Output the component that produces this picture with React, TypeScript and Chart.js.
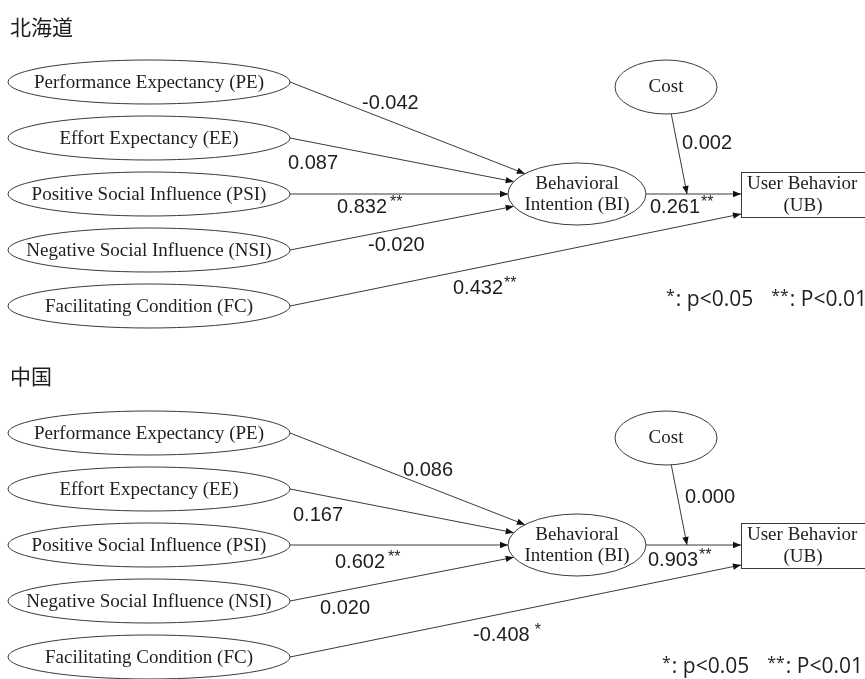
import { useEffect, useRef } from "react";
import { Chart, registerables } from "chart.js";

Chart.register(...registerables);

const W = 865;
const H = 679;

// Panel titles (regions) and model constructs
const panelTitles = ["北海道", "中国"];
const predictors = [
  "Performance Expectancy (PE)",
  "Effort Expectancy (EE)",
  "Positive Social Influence (PSI)",
  "Negative Social Influence (NSI)",
  "Facilitating Condition (FC)",
];
const biLines = ["Behavioral", "Intention (BI)"];
const ubLines = ["User Behavior", "(UB)"];
const costLabel = "Cost";

// Path coefficients: PE, EE, PSI, NSI -> BI
const hokkaidoToBI = [-0.042, 0.087, 0.832, -0.02];
const hokkaidoToBISig = ["", "", "**", ""];
const chinaToBI = [0.086, 0.167, 0.602, 0.02];
const chinaToBISig = ["", "", "**", ""];

// Path coefficients into UB: BI -> UB, FC -> UB, Cost (moderator)
const hokkaidoToUB = [0.261, 0.432, 0.002];
const hokkaidoToUBSig = ["**", "**", ""];
const chinaToUB = [0.903, -0.408, 0.0];
const chinaToUBSig = ["**", "*", ""];

const legendNote = [
  { stars: "*", text: ": p<0.05" },
  { stars: "**", text: ": P<0.01" },
];

// Diagram geometry in scale units
const layout = {
  panelOffset: [0, 351],
  titleY: [27, 376],
  titleX: 10,
  pred: { cx: 149, cy0: 82, dy: 56, rx: 141, ry: 22 },
  bi: { cx: 577, cy: 194, rx: 69, ry: 31 },
  cost: { cx: 666, cy: 87, rx: 51, ry: 27 },
  ub: { x: 741, y: 172, w: 150, h: 45 },
  costJoinX: 687,
  fcJoinDy: 3,
  // left anchors for coefficient labels, per panel
  biLabels: [
    [[362, 103], [288, 163], [337, 207], [368, 245]],
    [[403, 470], [293, 515], [335, 562], [320, 608]],
  ],
  ubLabels: [
    [[650, 207], [453, 288], [682, 143]],
    [[648, 560], [473, 635], [685, 497]],
  ],
  legend: [[666, 300], [662, 667]],
};

const panels = [
  { title: panelTitles[0], toBI: hokkaidoToBI, toBISig: hokkaidoToBISig, toUB: hokkaidoToUB, toUBSig: hokkaidoToUBSig },
  { title: panelTitles[1], toBI: chinaToBI, toBISig: chinaToBISig, toUB: chinaToUB, toUBSig: chinaToUBSig },
];

const LINE = "#3a3a3a";
const INK = "#1e1e1e";
const SERIF = '"Liberation Serif", "Times New Roman", serif';
const SANS = '"Liberation Sans", Arial, sans-serif';

type Pt = { x: number; y: number };

function ellipseToward(cx: number, cy: number, rx: number, ry: number, tx: number, ty: number): Pt {
  const dx = tx - cx;
  const dy = ty - cy;
  const t = 1 / Math.sqrt((dx / rx) ** 2 + (dy / ry) ** 2);
  return { x: cx + dx * t, y: cy + dy * t };
}

// Build every path (start, end) for both panels in scale units
function buildPaths() {
  const paths: { from: Pt; to: Pt }[] = [];
  layout.panelOffset.forEach((off) => {
    const { pred, bi, cost, ub } = layout;
    const biC = { x: bi.cx, y: bi.cy + off };
    for (let i = 0; i < 4; i++) {
      const from = { x: pred.cx + pred.rx, y: pred.cy0 + i * pred.dy + off };
      const to = ellipseToward(biC.x, biC.y, bi.rx, bi.ry, from.x, from.y);
      paths.push({ from, to });
    }
    // BI -> UB
    paths.push({ from: { x: bi.cx + bi.rx, y: biC.y }, to: { x: ub.x, y: biC.y } });
    // FC -> UB
    paths.push({
      from: { x: pred.cx + pred.rx, y: pred.cy0 + 4 * pred.dy + off },
      to: { x: ub.x, y: ub.y + ub.h - layout.fcJoinDy + off },
    });
    // Cost -> BI/UB path
    const join = { x: layout.costJoinX, y: biC.y };
    const cFrom = ellipseToward(cost.cx, cost.cy + off, cost.rx, cost.ry, join.x, join.y);
    paths.push({ from: cFrom, to: join });
  });
  return paths;
}

function drawStarsText(ctx: CanvasRenderingContext2D, x: number, y: number, value: string, stars: string, gap: number) {
  ctx.font = `20px ${SANS}`;
  ctx.textAlign = "left";
  ctx.textBaseline = "middle";
  ctx.fillStyle = INK;
  ctx.fillText(value, x, y);
  if (stars) {
    const w = ctx.measureText(value).width;
    ctx.font = `16px ${SANS}`;
    ctx.fillText(stars, x + w + gap, y - 4);
  }
}

const diagramPlugin = {
  id: "pathDiagram",
  afterDatasetsDraw(chart: any) {
    const ctx: CanvasRenderingContext2D = chart.ctx;
    const xs = chart.scales.x;
    const ys = chart.scales.y;
    const px = (v: number) => xs.getPixelForValue(v);
    const py = (v: number) => ys.getPixelForValue(v);
    const sx = (d: number) => Math.abs(xs.getPixelForValue(d) - xs.getPixelForValue(0));
    const sy = (d: number) => Math.abs(ys.getPixelForValue(d) - ys.getPixelForValue(0));

    ctx.save();

    // Arrowheads on every path
    chart.data.datasets.forEach((ds: any) => {
      if (!ds.isPath) return;
      const [a, b] = ds.data;
      const x1 = px(a.x), y1 = py(a.y), x2 = px(b.x), y2 = py(b.y);
      const ang = Math.atan2(y2 - y1, x2 - x1);
      const len = 8, hw = 3.2;
      ctx.beginPath();
      ctx.moveTo(x2, y2);
      ctx.lineTo(x2 - len * Math.cos(ang) + hw * Math.sin(ang), y2 - len * Math.sin(ang) - hw * Math.cos(ang));
      ctx.lineTo(x2 - len * Math.cos(ang) - hw * Math.sin(ang), y2 - len * Math.sin(ang) + hw * Math.cos(ang));
      ctx.closePath();
      ctx.fillStyle = "#111";
      ctx.fill();
    });

    const ellipse = (cx: number, cy: number, rx: number, ry: number) => {
      ctx.beginPath();
      ctx.ellipse(px(cx), py(cy), sx(rx), sy(ry), 0, 0, Math.PI * 2);
      ctx.fillStyle = "#ffffff";
      ctx.fill();
      ctx.lineWidth = 1;
      ctx.strokeStyle = LINE;
      ctx.stroke();
    };

    panels.forEach((panel, p) => {
      const off = layout.panelOffset[p];
      const { pred, bi, cost, ub } = layout;

      // Title
      ctx.font = `21px "Noto Sans CJK JP", "Noto Sans CJK SC", sans-serif`;
      ctx.fillStyle = INK;
      ctx.textAlign = "left";
      ctx.textBaseline = "middle";
      ctx.fillText(panel.title, px(layout.titleX), py(layout.titleY[p]));

      // Predictor ellipses
      predictors.forEach((name, i) => {
        const cy = pred.cy0 + i * pred.dy + off;
        ellipse(pred.cx, cy, pred.rx, pred.ry);
        ctx.font = `19px ${SERIF}`;
        ctx.fillStyle = INK;
        ctx.textAlign = "center";
        ctx.textBaseline = "middle";
        ctx.fillText(name, px(pred.cx), py(cy + 1));
      });

      // BI ellipse
      ellipse(bi.cx, bi.cy + off, bi.rx, bi.ry);
      ctx.font = `19px ${SERIF}`;
      ctx.fillStyle = INK;
      ctx.textAlign = "center";
      ctx.fillText(biLines[0], px(bi.cx), py(bi.cy + off - 10));
      ctx.fillText(biLines[1], px(bi.cx), py(bi.cy + off + 11));

      // Cost ellipse
      ellipse(cost.cx, cost.cy + off, cost.rx, cost.ry);
      ctx.font = `19px ${SERIF}`;
      ctx.fillStyle = INK;
      ctx.fillText(costLabel, px(cost.cx), py(cost.cy + off));

      // UB box
      ctx.lineWidth = 1;
      ctx.strokeStyle = LINE;
      ctx.strokeRect(px(ub.x) + 0.5, py(ub.y + off) + 0.5, sx(ub.w), sy(ub.h));
      ctx.fillStyle = INK;
      ctx.textAlign = "left";
      ctx.fillText(ubLines[0], px(ub.x + 6), py(ub.y + off + 12));
      ctx.textAlign = "center";
      ctx.fillText(ubLines[1], px(ub.x + 62), py(ub.y + off + 34));

      // Coefficient labels
      panel.toBI.forEach((v, i) => {
        const [lx, ly] = layout.biLabels[p][i];
        drawStarsText(ctx, px(lx), py(ly), v.toFixed(3), panel.toBISig[i], 3);
      });
      panel.toUB.forEach((v, i) => {
        const [lx, ly] = layout.ubLabels[p][i];
        drawStarsText(ctx, px(lx), py(ly), v.toFixed(3), panel.toUBSig[i], i === 1 && panel.toUBSig[i] === "*" ? 5 : 1);
      });

      // Significance note
      const [gx, gy] = layout.legend[p];
      let cursor = px(gx);
      ctx.textAlign = "left";
      ctx.textBaseline = "middle";
      legendNote.forEach((item, k) => {
        ctx.font = `16px "Open Sans", sans-serif`;
        ctx.fillText(item.stars, cursor, py(gy) - 4);
        cursor += ctx.measureText(item.stars).width + 1;
        ctx.font = `21px "Open Sans", sans-serif`;
        ctx.fillText(item.text, cursor, py(gy));
        cursor += ctx.measureText(item.text).width + (k === 0 ? 18 : 0);
      });
    });

    ctx.restore();
  },
};

export default function App() {
  const ref = useRef<HTMLCanvasElement>(null);

  useEffect(() => {
    const paths = buildPaths();
    const chart = new Chart(ref.current!, {
      type: "scatter",
      data: {
        datasets: paths.map((p) => ({
          type: "line" as const,
          isPath: true,
          data: [p.from, p.to],
          borderColor: LINE,
          borderWidth: 1,
          pointRadius: 0,
          fill: false,
          tension: 0,
        })) as any,
      },
      options: {
        responsive: false,
        animation: false,
        events: [],
        layout: { padding: 0 },
        scales: {
          x: { type: "linear", min: 0, max: W, display: false },
          y: { type: "linear", min: 0, max: H, reverse: true, display: false },
        },
        plugins: { legend: { display: false }, tooltip: { enabled: false } },
      },
      plugins: [diagramPlugin],
    });
    return () => chart.destroy();
  }, []);

  return (
    <div style={{ position: "fixed", left: 0, top: 0, width: W, height: H, background: "#ffffff" }}>
      <canvas ref={ref} width={W} height={H} style={{ display: "block", width: W, height: H }} />
    </div>
  );
}
